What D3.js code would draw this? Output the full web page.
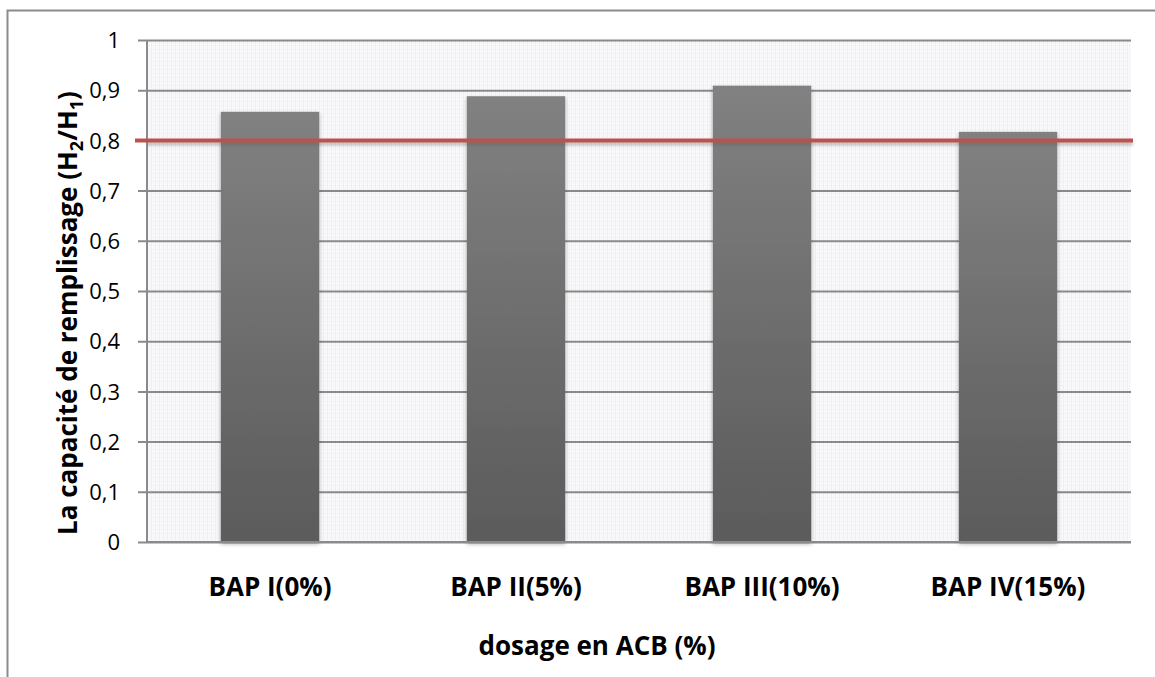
<!DOCTYPE html>
<html>
<head>
<meta charset="utf-8">
<script src="https://cdn.jsdelivr.net/npm/d3@7"></script>
<style>
  body { margin: 0; background: #fff; }
  svg { display: block; font-family: "Open Sans", sans-serif; }
</style>
</head>
<body>
<div id="chart"></div>
<script>
const categories = ["BAP I(0%)", "BAP II(5%)", "BAP III(10%)", "BAP IV(15%)"];
const values = [0.857, 0.888, 0.909, 0.817];
const yTicks = [0, 0.1, 0.2, 0.3, 0.4, 0.5, 0.6, 0.7, 0.8, 0.9, 1];
const refValue = 0.8;

const width = 1155, height = 677;
const margin = {top: 40, right: 24, bottom: 135, left: 147};
const plotW = width - margin.left - margin.right;
const plotH = height - margin.top - margin.bottom;

const svg = d3.select("#chart").append("svg")
    .attr("width", width)
    .attr("height", height);

const defs = svg.append("defs");

// dotted background pattern like the excel fill
const pat = defs.append("pattern")
    .attr("id", "dots")
    .attr("width", 4).attr("height", 4)
    .attr("patternUnits", "userSpaceOnUse");
pat.append("rect").attr("width", 4).attr("height", 4).attr("fill", "#f9f8fb");
pat.append("rect").attr("width", 1).attr("height", 4).attr("fill", "#efeef2");
pat.append("rect").attr("x", 2).attr("y", 1).attr("width", 1).attr("height", 1).attr("fill", "#ebeaef");

const grad = defs.append("linearGradient")
    .attr("id", "barGrad")
    .attr("x1", 0).attr("y1", 0).attr("x2", 0).attr("y2", 1);
grad.append("stop").attr("offset", "0%").attr("stop-color", "#818181");
grad.append("stop").attr("offset", "100%").attr("stop-color", "#5b5b5b");

const shadow = defs.append("filter").attr("id", "shadow")
    .attr("x", "-10%").attr("y", "-10%").attr("width", "120%").attr("height", "120%");
shadow.append("feDropShadow")
    .attr("dx", 0).attr("dy", 2).attr("stdDeviation", 2)
    .attr("flood-color", "#000").attr("flood-opacity", 0.3);

const blur = defs.append("filter").attr("id", "blur")
    .attr("filterUnits", "userSpaceOnUse")
    .attr("x", 0).attr("y", 0).attr("width", width).attr("height", height);
blur.append("feGaussianBlur").attr("stdDeviation", 1.5);

// outer frame (only top and left are visible)
svg.append("path")
    .attr("d", "M7.5," + height + " V10.5 H" + width)
    .attr("fill", "none")
    .attr("stroke", "#8c8c8c")
    .attr("stroke-width", 2);

const g = svg.append("g").attr("transform", `translate(${margin.left},${margin.top})`);

const x = d3.scaleBand().domain(categories).range([0, plotW]).paddingInner(0.6).paddingOuter(0.3);
const y = d3.scaleLinear().domain([0, 1]).range([plotH, 0]);

g.append("rect")
    .attr("width", plotW).attr("height", plotH)
    .attr("fill", "url(#dots)");

// gridlines + ticks
const yAxis = d3.axisLeft(y)
    .tickValues(yTicks)
    .tickSize(-plotW)
    .tickFormat(d => d === 0 || d === 1 ? String(d) : d3.format(".1f")(d).replace(".", ","));

const ya = g.append("g").call(yAxis);
ya.attr("font-family", null).attr("font-size", null);
ya.select(".domain").remove();
ya.selectAll(".tick line")
    .attr("x1", -9)
    .attr("stroke", "#8a8a8a")
    .attr("stroke-width", 2);
ya.selectAll(".tick text")
    .attr("x", -27)
    .attr("dy", "0.35em")
    .style("font-size", "22px")
    .style("fill", "#000");

// vertical axis line
g.append("line")
    .attr("x1", 0).attr("x2", 0)
    .attr("y1", 0).attr("y2", plotH)
    .attr("stroke", "#8a8a8a").attr("stroke-width", 2);

// bars
g.selectAll(".bar")
    .data(values)
    .enter().append("rect")
    .attr("class", "bar")
    .attr("x", (d, i) => x(categories[i]))
    .attr("width", x.bandwidth())
    .attr("y", d => y(d))
    .attr("height", d => plotH - y(d))
    .attr("fill", "url(#barGrad)")
    .attr("filter", "url(#shadow)");

// x axis baseline
g.append("line")
    .attr("x1", 0).attr("x2", plotW)
    .attr("y1", plotH).attr("y2", plotH)
    .attr("stroke", "#8a8a8a").attr("stroke-width", 2);

// red reference line with soft shadow underneath
g.append("line")
    .attr("x1", -12).attr("x2", plotW + 2)
    .attr("y1", y(refValue) + 3).attr("y2", y(refValue) + 3)
    .attr("stroke", "#555")
    .attr("stroke-opacity", 0.35)
    .attr("stroke-width", 4)
    .attr("filter", "url(#blur)");
g.append("line")
    .attr("x1", -12).attr("x2", plotW + 2)
    .attr("y1", y(refValue)).attr("y2", y(refValue))
    .attr("stroke", "#bb524e")
    .attr("stroke-width", 4);

// category labels
g.selectAll(".cat")
    .data(categories)
    .enter().append("text")
    .attr("class", "cat")
    .attr("x", d => x(d) + x.bandwidth() / 2)
    .attr("y", plotH + 54)
    .attr("text-anchor", "middle")
    .style("font-size", "26px")
    .style("font-weight", "bold")
    .text(d => d);

// axis titles
svg.append("text")
    .attr("x", 597)
    .attr("y", 655)
    .attr("text-anchor", "middle")
    .style("font-size", "26px")
    .style("font-weight", "bold")
    .text("dosage en ACB (%)");

const yt = svg.append("text")
    .attr("transform", "translate(77,313) rotate(-90)")
    .attr("text-anchor", "middle")
    .style("font-size", "26px")
    .style("font-weight", "bold");
yt.append("tspan").text("La capacité de remplissage (H");
yt.append("tspan").attr("dy", 6).style("font-size", "18px").text("2");
yt.append("tspan").attr("dy", -6).text("/H");
yt.append("tspan").attr("dy", 6).style("font-size", "18px").text("1");
yt.append("tspan").attr("dy", -6).text(")");
</script>
</body>
</html>
